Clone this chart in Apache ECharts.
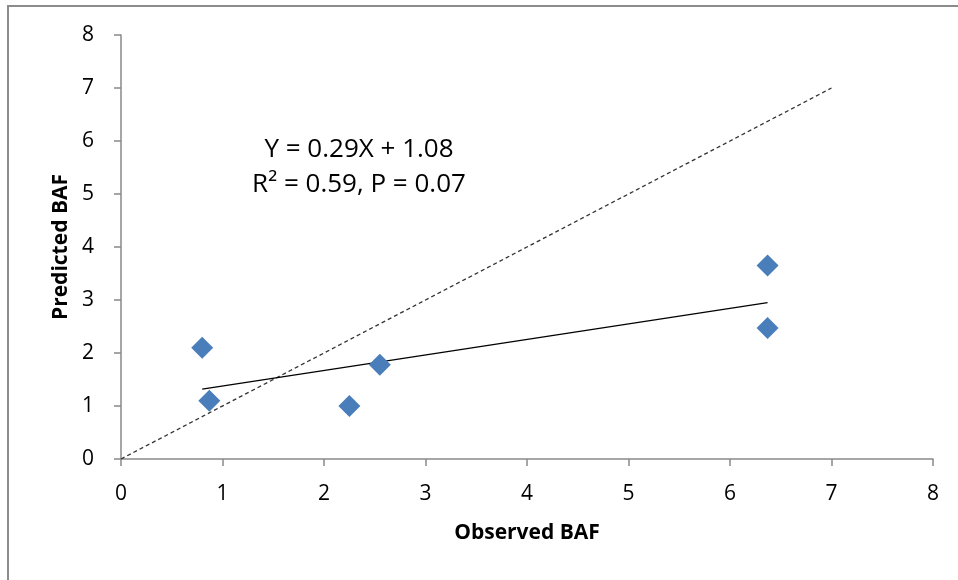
<!DOCTYPE html>
<html>
<head>
<meta charset="utf-8">
<script src="https://cdn.jsdelivr.net/npm/echarts@6/dist/echarts.min.js"></script>
<style>
  html, body { margin: 0; padding: 0; background: #fff; }
  #frame {
    position: absolute; left: 7px; top: 5px; width: 951px; height: 575px;
    border-top: 2px solid #8c8c8c; border-left: 2px solid #8c8c8c;
  }
  #myChart { position: absolute; left: 0; top: 0; width: 958px; height: 580px; }
</style>
</head>
<body>
<div id="frame"></div>
<div id="myChart"></div>
<script>
// 观测值 / 预测值
const observed = [0.80, 0.87, 2.25, 2.55, 6.37, 6.37];
const predicted = [2.10, 1.10, 1.00, 1.78, 3.65, 2.47];
// 趋势线两端
const trendX = [0.80, 6.37];
const trendY = [1.32, 2.95];
// 1:1 线
const oneToOneX = [0, 7];
const oneToOneY = [0, 7];
const axisTicks = [0, 1, 2, 3, 4, 5, 6, 7, 8];
const eqLine1 = 'Y = 0.29X + 1.08';
const eqLine2 = 'R\u00b2 = 0.59, P = 0.07';

const font = '"Open Sans", "Liberation Sans", sans-serif';

function pairs(xs, ys) {
  return xs.map((x, i) => [x, ys[i]]);
}

let myChart = echarts.init(document.getElementById('myChart'));
let option = {
  animation: false,
  grid: { left: 121, right: 25, top: 35, bottom: 121 },
  xAxis: {
    type: 'value',
    min: axisTicks[0],
    max: axisTicks[axisTicks.length - 1],
    interval: 1,
    name: 'Observed BAF',
    nameLocation: 'middle',
    nameGap: 64,
    nameTextStyle: { fontFamily: font, fontSize: 21, fontWeight: 'bold', color: '#000' },
    axisLine: { lineStyle: { color: '#898989', width: 1.5 } },
    axisTick: { show: true, length: 7, lineStyle: { color: '#898989', width: 1.5 } },
    axisLabel: { margin: 25, fontFamily: font, fontSize: 21, color: '#000' },
    splitLine: { show: false }
  },
  yAxis: {
    type: 'value',
    min: axisTicks[0],
    max: axisTicks[axisTicks.length - 1],
    interval: 1,
    name: 'Predicted BAF',
    nameLocation: 'middle',
    nameGap: 49,
    nameTextStyle: { fontFamily: font, fontSize: 21, fontWeight: 'bold', color: '#000' },
    axisLine: { show: true, lineStyle: { color: '#898989', width: 1.5 } },
    axisTick: { show: true, length: 7, lineStyle: { color: '#898989', width: 1.5 } },
    axisLabel: { margin: 27, fontFamily: font, fontSize: 21, color: '#000' },
    splitLine: { show: false }
  },
  graphic: [
    {
      type: 'text', x: 359, y: 150,
      style: { text: eqLine1, fontFamily: font, fontSize: 26, fill: '#000',
               align: 'center', verticalAlign: 'middle' }
    },
    {
      type: 'text', x: 359, y: 185,
      style: { text: eqLine2, fontFamily: font, fontSize: 26, fill: '#000',
               align: 'center', verticalAlign: 'middle' }
    }
  ],
  series: [
    {
      type: 'line',
      data: pairs(oneToOneX, oneToOneY),
      symbol: 'none',
      lineStyle: { color: '#333', width: 1.3, type: [4, 3] },
      z: 1
    },
    {
      type: 'line',
      data: pairs(trendX, trendY),
      symbol: 'none',
      lineStyle: { color: '#000', width: 1.2 },
      z: 2
    },
    {
      type: 'scatter',
      data: pairs(observed, predicted),
      symbol: 'diamond',
      symbolSize: 22,
      itemStyle: { color: '#4A7EBB', opacity: 1 },
      z: 3
    }
  ]
};
myChart.setOption(option);
</script>
</body>
</html>
